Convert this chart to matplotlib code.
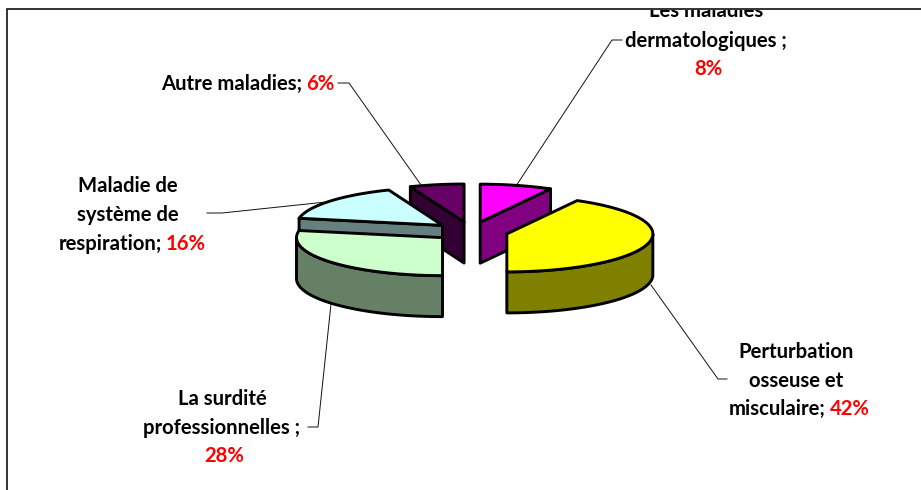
import numpy as np
import matplotlib
matplotlib.use("Agg")
import matplotlib.pyplot as plt
from matplotlib.patches import Polygon, Rectangle

categories = ["Les maladies dermatologiques", "Perturbation osseuse et misculaire",
              "La surdité professionnelles", "Maladie de système de respiration",
              "Autre maladies"]
values = [8, 42, 28, 16, 6]
top_colors = ["#FF00FF", "#FFFF00", "#CCFFCC", "#CCFFFF", "#660066"]
side_colors = ["#800080", "#808000", "#668066", "#668080", "#330033"]
percent_labels = [f"{v}%" for v in values]

plt.rcParams["font.family"] = ["Lato", "DejaVu Sans"]
FS = 14.6
CX, CY, RX, RY, DEPTH, EXPLODE = 471, 231.5, 146, 38, 41, 37
LW = 2.1

fig = plt.figure(figsize=(9.21, 4.9), dpi=100)
ax = fig.add_axes([0, 0, 1, 1])
ax.set_xlim(0, 921)
ax.set_ylim(490, 0)
ax.axis("off")


def pt(ax0, ay0, deg):
    t = np.radians(deg)
    return ax0 + RX * np.sin(t), ay0 - RY * np.cos(t)


def arc(ax0, ay0, a0, a1):
    ts = np.linspace(a0, a1, 80)
    return np.column_stack(pt(ax0, ay0, ts))


slices = []
start = 0.0
for v, tc, sc in zip(values, top_colors, side_colors):
    end = start + v / sum(values) * 360
    mid = np.radians((start + end) / 2)
    apex_x = CX + EXPLODE * np.sin(mid)
    apex_y = CY - EXPLODE * RY / RX * np.cos(mid)
    slices.append((apex_y, apex_x, start, end, tc, sc))
    start = end

kw = dict(edgecolor="black", linewidth=LW, joinstyle="round")
for apex_y, apex_x, a0, a1, tc, sc in sorted(slices, key=lambda s: s[0]):
    down = np.array([0, DEPTH])
    apex = np.array([apex_x, apex_y])
    # visible radial cut faces
    for edge, visible in ((a0, 180 < a0 < 360), (a1, 0 < a1 < 180)):
        if visible:
            rim = np.array(pt(apex_x, apex_y, edge))
            ax.add_patch(Polygon([apex, rim, rim + down, apex + down],
                                 facecolor=sc, zorder=2, **kw))
    # outer wall
    w0, w1 = max(a0, 90), min(a1, 270)
    if w1 > w0:
        rim = arc(apex_x, apex_y, w0, w1)
        ax.add_patch(Polygon(np.vstack([rim, (rim + down)[::-1]]),
                             facecolor=sc, zorder=2, **kw))
    # top face
    ax.add_patch(Polygon(np.vstack([apex, arc(apex_x, apex_y, a0, a1)]),
                         facecolor=tc, zorder=2, **kw))

# frame
ax.plot([7, 7, 921], [490, 9, 9], color="#111111", lw=1.2, zorder=1,
        solid_joinstyle="miter")

# leader lines
leaders = [
    ([622, 612, 516], [40, 40, 186]),
    ([651, 718, 727], [285, 379, 379]),
    ([308, 318, 331], [427, 427, 304]),
    ([207, 222, 326], [213, 213, 202]),
    ([338, 349, 421], [83, 83, 185]),
]
for xs, ys in leaders:
    ax.plot(xs, ys, color="#111111", lw=0.7, zorder=1)

clip = Rectangle((0, 10), 921, 480, transform=ax.transData)
tx = dict(fontsize=FS, fontweight="bold", ha="center", va="center", color="black")
red = dict(tx, color="#FF0000")


def label(x, y, s, **k):
    t = ax.text(x, y + 1, s, **k)
    t.set_clip_path(clip)
    t.set_clip_on(True)
    return t


label(706, 10, "Les maladies", **tx)
label(706, 40, "dermatologiques ;", **tx)
label(708, 68, percent_labels[0], **red)

label(796, 351, "Perturbation", **tx)
label(796, 380, "osseuse et", **tx)
label(826, 408, "misculaire;", **dict(tx, ha="right"))
label(830, 408, percent_labels[1], **dict(red, ha="left"))

label(222, 398, "La surdité", **tx)
label(222, 427, "professionnelles ;", **tx)
label(224, 455, percent_labels[2], **red)

label(128, 185, "Maladie de", **tx)
label(128, 214, "système de", **tx)
label(162, 243, "respiration;", **dict(tx, ha="right"))
label(166, 243, percent_labels[3], **dict(red, ha="left"))

label(302, 83, "Autre maladies;", **dict(tx, ha="right"))
label(306, 83, percent_labels[4], **dict(red, ha="left"))

fig.savefig("out.png", dpi=100)
